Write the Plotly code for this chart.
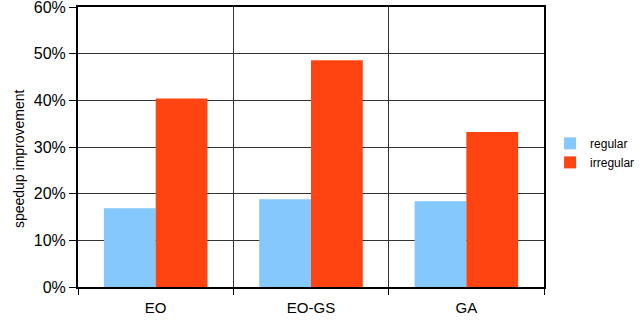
import plotly.graph_objects as go

categories = ["EO", "EO-GS", "GA"]
regular = [0.169, 0.188, 0.184]
irregular = [0.404, 0.486, 0.332]
series_names = ["regular", "irregular"]
colors = ["#85C8FE", "#FF4411"]
y_title = "speedup improvement"

fig = go.Figure()
for name, vals, col in zip(series_names, [regular, irregular], colors):
    fig.add_trace(go.Bar(x=categories, y=vals, name=name, marker=dict(color=col, line=dict(width=0))))

fig.update_layout(
    width=640, height=321,
    margin=dict(l=78, r=96, t=7, b=34, autoexpand=False),
    paper_bgcolor="white", plot_bgcolor="white",
    barmode="group", bargap=1/3, bargroupgap=0,
    font=dict(family="Liberation Sans, Arial, sans-serif", color="black"),
    showlegend=True,
    legend=dict(x=1.013, xanchor="left", y=0.479, yanchor="middle",
                font=dict(size=12, color="black"), bgcolor="rgba(0,0,0,0)"),
    xaxis=dict(type="category", tickson="boundaries", showgrid=True, gridcolor="#333", gridwidth=1,
               showline=True, linecolor="black", linewidth=2, mirror=True,
               ticks="outside", ticklen=6, tickcolor="black", tickwidth=1,
               tickfont=dict(size=15), automargin=False, ticklabelstandoff=6),
    yaxis=dict(range=[0, 0.6], dtick=0.1, tickformat=".0%", showgrid=True, gridcolor="#333", gridwidth=1,
               showline=True, linecolor="black", linewidth=2, mirror=True,
               ticks="outside", ticklen=7, tickcolor="black", tickwidth=1,
               tickfont=dict(size=16), zeroline=False, automargin=False,
               ticklabeloverflow="allow"),
    annotations=[dict(text=y_title, textangle=-90, xref="paper", yref="paper",
                      x=-0.148, y=0.457, showarrow=False, font=dict(size=14))],
)

fig.write_html("out.html")
